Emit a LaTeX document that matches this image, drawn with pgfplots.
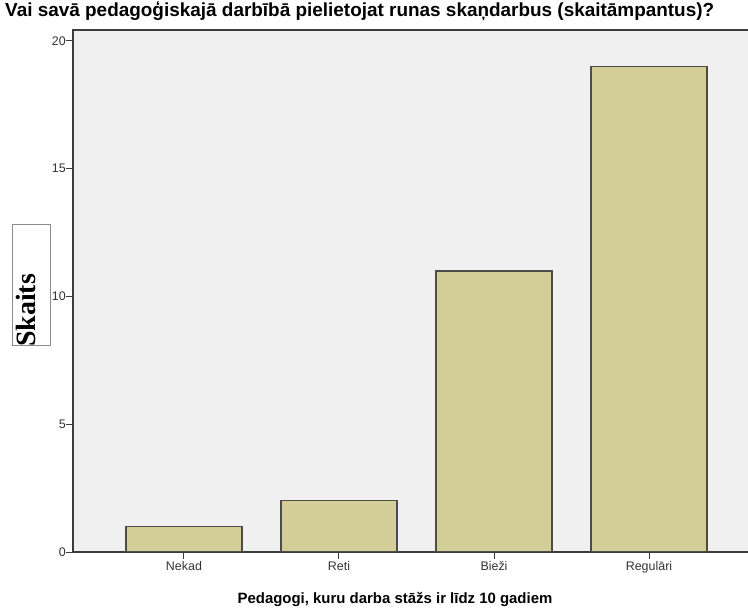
\documentclass[border=0pt]{standalone}
\usepackage{fontspec}
\setmainfont{Liberation Sans}
\newfontfamily\serifb{Liberation Serif}
\usepackage{pgfplots}
\pgfplotsset{compat=1.18}
\definecolor{bgplot}{HTML}{F0F0F0}
\definecolor{barfill}{HTML}{D3CE97}
\definecolor{barline}{HTML}{4D4D45}
\definecolor{axline}{HTML}{3C3C3C}

\begin{document}
\begin{tikzpicture}[x=1bp,y=1bp]
\begin{axis}[
  at={(73bp,58bp)}, anchor=south west,
  scale only axis, width=687bp, height=522bp,
  xmin=-0.716, xmax=3.716, ymin=0, ymax=20.43,
  axis background/.style={fill=bgplot},
  axis line style={draw=axline, line width=1.2bp},
  xtick={0,1,2,3}, xticklabels={Nekad,Reti,Bieži,Regulāri},
  ytick={0,5,10,15,20},
  tick align=outside, major tick length=7bp,
  tick style={draw=axline, line width=1bp},
  xtick pos=left, ytick pos=left,
  xticklabel style={yshift=-1bp},
  yticklabel style={xshift=1bp},
  ticklabel style={font=\fontsize{12.5}{14}\selectfont, text=black!80, inner sep=1bp},
  /pgf/number format/assume math mode=true,
]
\addplot[ybar, bar width=116bp, fill=barfill, draw=barline, line width=1.2bp]
  coordinates {(0,1) (1,2) (2,11) (3,19)};
\end{axis}
\node[anchor=base west, inner sep=0, font=\bfseries\fontsize{19}{22}\selectfont]
  at (5bp,593bp) {Vai savā pedagoģiskajā darbībā pielietojat runas skaņdarbus (skaitāmpantus)?};
\node[anchor=base, inner sep=0, font=\bfseries\fontsize{15}{18}\selectfont]
  at (395bp,7bp) {Pedagogi, kuru darba stāžs ir līdz 10 gadiem};
\draw[draw=black!45, fill=white, line width=0.8bp] (12bp,265bp) rectangle (50bp,386bp);
\node[rotate=90, anchor=base west, inner sep=0, font=\serifb\bfseries\fontsize{28}{30}\selectfont]
  at (35bp,263bp) {Skaits};
\pgfresetboundingbox
\path[use as bounding box] (0,0) rectangle (748bp,610bp);
\end{tikzpicture}
\end{document}
